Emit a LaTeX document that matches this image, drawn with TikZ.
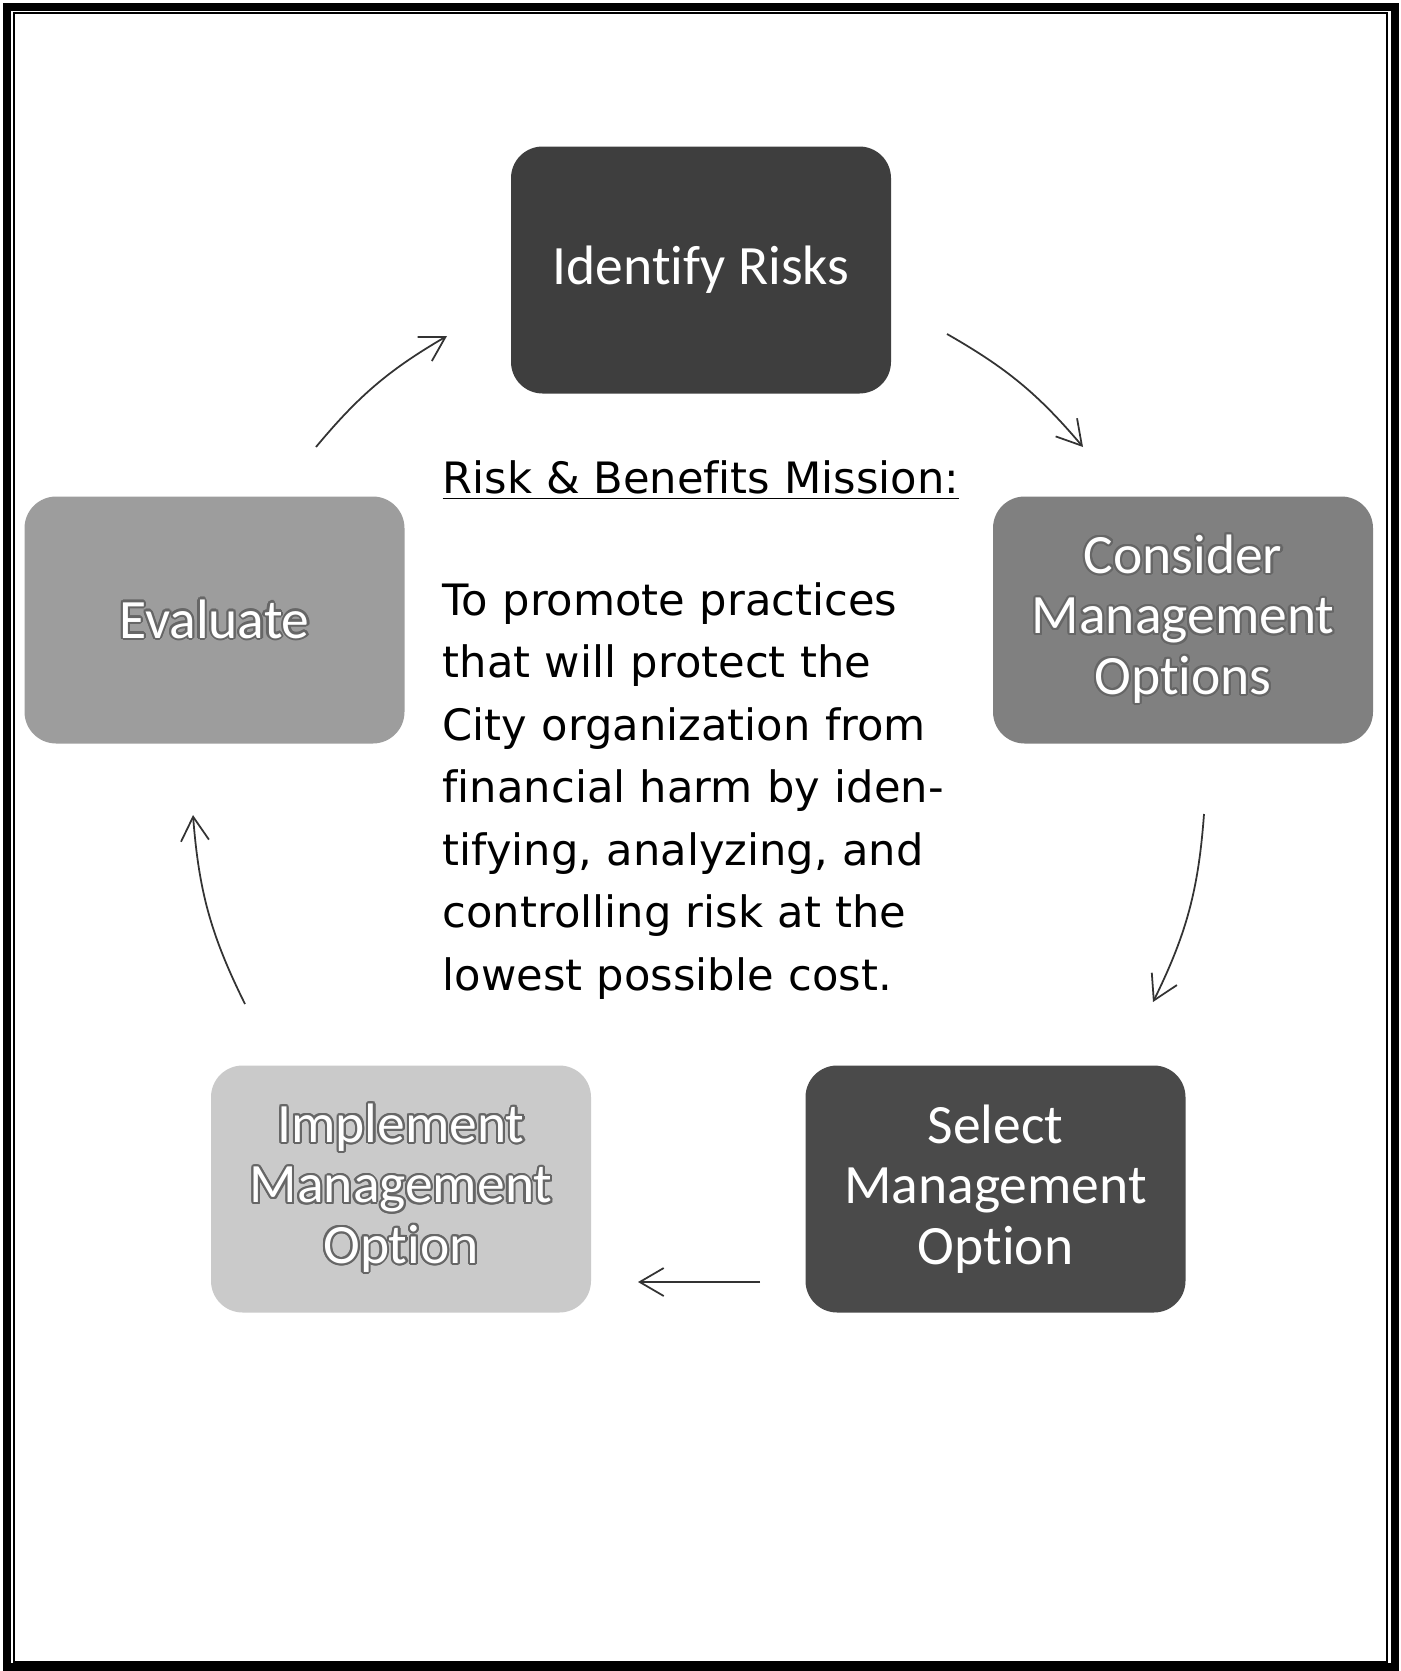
\documentclass[tikz,border=0pt]{standalone}
\usepackage{fontspec}
\setmainfont[Ligatures=NoCommon]{DejaVu Sans}
\newfontfamily\boxfont[Ligatures=NoCommon]{Carlito}
\usepackage[copies]{contour}
\usepackage{tikz}
\usetikzlibrary{arrows.meta}
\definecolor{mydark}{HTML}{3E3E3E}
\definecolor{myseldark}{HTML}{4A4A4A}
\definecolor{mymid}{HTML}{808080}
\definecolor{mylight}{HTML}{9D9D9D}
\definecolor{mypale}{HTML}{CACACA}
\definecolor{myline}{HTML}{333333}
\contourlength{0.6pt}
\newcommand{\outl}[1]{\contour{black!60}{#1}}

\begin{document}
\begin{tikzpicture}[
  stepbox/.style={rounded corners=9pt,minimum width=3.8cm,minimum height=2.47cm,
                  align=center,text=white,font=\boxfont\fontsize{15.8}{17.2}\selectfont},
  misstext/.style={anchor=base west,inner sep=0pt,font=\fontsize{12.3}{17.8}\selectfont},
  arr/.style={-{Straight Barb[length=2.4mm,width=2.8mm]},line width=0.5pt,color=myline}]
\useasboundingbox (0,0) rectangle (14.01,-16.71);
\draw[line width=2.3pt] (0.07,-0.07) rectangle (13.95,-16.67);
\draw[line width=0.6pt] (0.14,-0.13) rectangle (13.87,-16.62);
\node[stepbox,fill=mydark]    (I) at (7.01,-2.70) {Identify Risks};
\node[stepbox,fill=mymid]     (C) at (11.83,-6.20) {\outl{Consider}\\\outl{Management}\\\outl{Options}};
\node[stepbox,fill=myseldark] (S) at (9.955,-11.89) {Select\\Management\\Option};
\node[stepbox,fill=mypale]    (P) at (4.01,-11.89) {\outl{Implement}\\\outl{Management}\\\outl{Option}};
\node[stepbox,fill=mylight]   (E) at (2.145,-6.20) {\outl{Evaluate}};
\node[misstext] (hd) at (4.42,-4.93) {\underline{Risk \& Benefits Mission:}};
\node[misstext,text width=5.8cm,align=left] (mis) at (4.42,-6.15)
  {To promote practices\\that will protect the\\City organization from\\financial harm by iden-\\tifying, analyzing, and\\controlling risk at the\\lowest possible cost.};
\coordinate (e1) at (3.16,-4.47);  \coordinate (i1) at (4.47,-3.36);
\coordinate (i2) at (9.47,-3.34);  \coordinate (c2) at (10.83,-4.47);
\coordinate (c3) at (12.04,-8.14); \coordinate (s3) at (11.53,-10.02);
\coordinate (s4) at (7.60,-12.82); \coordinate (p4) at (6.38,-12.82);
\coordinate (p5) at (2.45,-10.04); \coordinate (e5) at (1.93,-8.15);
\draw[arr] (e1) to[bend left=10] (i1);
\draw[arr] (i2) to[bend left=10] (c2);
\draw[arr] (c3) to[bend left=11] (s3);
\draw[arr] (s4) -- (p4);
\draw[arr] (p5) to[bend left=11] (e5);
\end{tikzpicture}
\end{document}
